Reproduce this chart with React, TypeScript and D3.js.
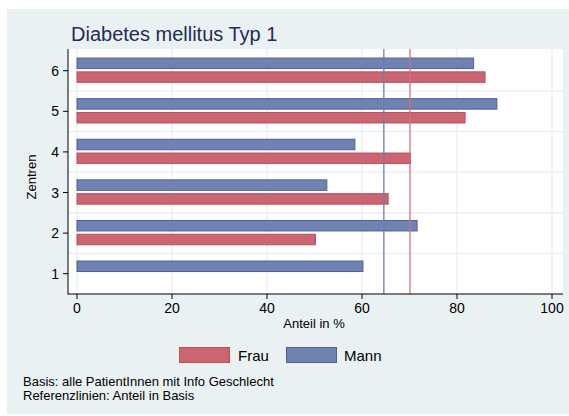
import React from "react";
import * as d3 from "d3";

const centres = [1, 2, 3, 4, 5, 6];
const frauValues: (number | null)[] = [null, 50.2, 65.5, 70.2, 81.7, 85.9];
const mannValues: (number | null)[] = [60.2, 71.6, 52.6, 58.5, 88.4, 83.5];
const refFrau = 70.1;
const refMann = 64.6;
const xTicks = [0, 20, 40, 60, 80, 100];
const yTicks = [1, 2, 3, 4, 5, 6];
const yGrid = [1.5, 2.5, 3.5, 4.5, 5.5];
const seriesNames = ["Frau", "Mann"];
const titleText = "Diabetes mellitus Typ 1";
const xTitle = "Anteil in %";
const yTitle = "Zentren";
const notes = ["Basis: alle PatientInnen mit Info Geschlecht", "Referenzlinien: Anteil in Basis"];

const W = 569;
const H = 416;
const plot = { left: 68, right: 563, top: 49, bottom: 294 };

const redFill = "#c96671";
const redStroke = "#c24b5c";
const blueFill = "#7083b0";
const blueStroke = "#4d6196";
const gridColor = "#e5eef2";
const panelBg = "#eaf1f3";
const font = "'Liberation Sans', Arial, Helvetica, sans-serif";

export default function App() {
  const x = d3.scaleLinear().domain([0, 100]).range([77, 552]);
  const y = d3.scaleLinear().domain([1, 6]).range([273.7, 70.7]);
  const barH = 10.5;

  return (
    <svg width={W} height={H} style={{ position: "absolute", left: 0, top: 0 }} fontFamily={font}>
      <rect x={0} y={0} width={W} height={H} fill="#ffffff" />
      <rect x={7} y={9} width={W - 7} height={405} fill={panelBg} />
      <rect x={plot.left} y={plot.top} width={plot.right - plot.left} height={plot.bottom - plot.top} fill="#ffffff" />
      {xTicks.map((t) => (
        <line key={"gx" + t} x1={x(t)} x2={x(t)} y1={plot.top} y2={plot.bottom} stroke={gridColor} strokeWidth={1.2} />
      ))}
      {yGrid.map((t) => (
        <line key={"gy" + t} x1={plot.left} x2={plot.right} y1={y(t)} y2={y(t)} stroke={gridColor} strokeWidth={1.2} />
      ))}
      {centres.map((c, i) => {
        const m = mannValues[i];
        const f = frauValues[i];
        return (
          <g key={"c" + c}>
            {m != null && (
              <rect x={x(0)} y={y(c) - 7.4 - barH / 2} width={x(m) - x(0)} height={barH} fill={blueFill} stroke={blueStroke} strokeWidth={1} />
            )}
            {f != null && (
              <rect x={x(0)} y={y(c) + 6.4 - barH / 2} width={x(f) - x(0)} height={barH} fill={redFill} stroke={redStroke} strokeWidth={1} />
            )}
          </g>
        );
      })}
      <line x1={x(refMann)} x2={x(refMann)} y1={plot.top} y2={plot.bottom} stroke="#6a7fae" strokeWidth={1.3} />
      <line x1={x(refFrau)} x2={x(refFrau)} y1={plot.top} y2={plot.bottom} stroke="#d0707c" strokeWidth={1.3} />
      {/* axes */}
      <line x1={plot.left} x2={plot.left} y1={plot.top} y2={plot.bottom + 0.5} stroke="#000" strokeWidth={1} />
      <line x1={plot.left} x2={plot.right} y1={plot.bottom} y2={plot.bottom} stroke="#000" strokeWidth={1} />
      {xTicks.map((t) => (
        <g key={"xt" + t}>
          <line x1={x(t)} x2={x(t)} y1={plot.bottom} y2={plot.bottom + 5} stroke="#000" />
          <text x={x(t)} y={313} textAnchor="middle" fontSize={14} fill="#000">{t}</text>
        </g>
      ))}
      {yTicks.map((t) => (
        <g key={"yt" + t}>
          <line x1={plot.left - 5} x2={plot.left} y1={y(t)} y2={y(t)} stroke="#000" />
          <text x={59} y={y(t) + 5} textAnchor="end" fontSize={14} fill="#000">{t}</text>
        </g>
      ))}
      <text x={314} y={328} textAnchor="middle" fontSize={13} fill="#000">{xTitle}</text>
      <text transform={`translate(36,177) rotate(-90)`} textAnchor="middle" fontSize={13} fill="#000">{yTitle}</text>
      <text x={71} y={41} fontSize={20} fill="#1e2d53">{titleText}</text>
      {/* legend */}
      <rect x={179.5} y={347.5} width={50} height={15} fill={redFill} stroke={redStroke} />
      <text x={238} y={361} fontSize={15} fill="#000">{seriesNames[0]}</text>
      <rect x={286.5} y={347.5} width={50} height={15} fill={blueFill} stroke={blueStroke} />
      <text x={344} y={361} fontSize={15} fill="#000">{seriesNames[1]}</text>
      {notes.map((n, i) => (
        <text key={n} x={23} y={386 + i * 14} fontSize={13} fill="#000">{n}</text>
      ))}
    </svg>
  );
}
